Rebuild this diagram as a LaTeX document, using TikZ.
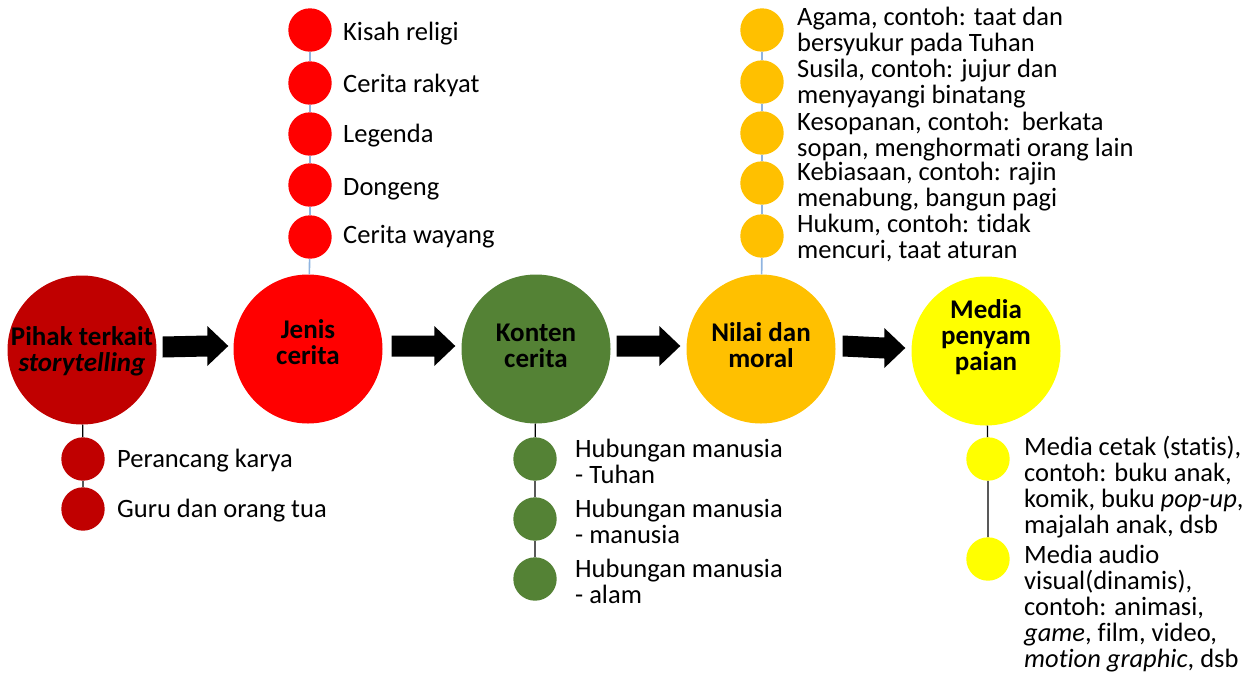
\documentclass[tikz,border=0pt]{standalone}
\usepackage{fontspec}
\setmainfont{Carlito}[Ligatures={NoCommon}]
\usetikzlibrary{calc}
\definecolor{cPihak}{HTML}{C00000}
\definecolor{cJenis}{HTML}{FF0000}
\definecolor{cKonten}{HTML}{548235}
\definecolor{cNilai}{HTML}{FFC000}
\definecolor{cMedia}{HTML}{FFFF00}
\definecolor{linkblue}{HTML}{8FB4E0}
\newcommand{\tightlines}{\lineskiplimit=-30pt\lineskip=0pt}
\begin{document}
\begin{tikzpicture}[x=1pt,y=-1pt,
  bigc/.style={circle, minimum size=149pt, inner sep=0pt, fill=#1},
  dotc/.style={circle, minimum size=43.4pt, inner sep=0pt, fill=#1},
  headtxt/.style={anchor=base, inner sep=0pt, align=center,
    font=\bfseries\fontsize{27}{26}\selectfont\tightlines},
  itemtxt/.style={anchor=base west, inner sep=0pt, align=left,
    font=\fontsize{26.5}{26}\selectfont\tightlines},
  blockarrow/.style={fill=black},
  bluelink/.style={draw=linkblue, line width=1.6pt},
  blacklink/.style={draw=black, line width=1.3pt}]
\useasboundingbox (0,0) rectangle (1256,675);

% main stages
\node[bigc=cPihak]  (P) at (82,350)  {};
\node[bigc=cJenis]  (J) at (308,349) {};
\node[bigc=cKonten] (K) at (536,349) {};
\node[bigc=cNilai]  (N) at (761,349) {};
\node[bigc=cMedia]  (M) at (986,351) {};

% stage titles (anchored on the baseline of their last line)
\node[headtxt] (Pt) at (82,371)  {Pihak terkait\\\textit{storytelling}};
\node[headtxt] (Jt) at (308,364) {Jenis\\cerita};
\node[headtxt] (Kt) at (536,367) {Konten\\cerita};
\node[headtxt] (Nt) at (761,367) {Nilai dan\\moral};
\node[headtxt] (Mt) at (986,370) {Media\\penyam\\paian};

% block arrows between stages: shaft 21 high, head 40 high and 21 long
\foreach \a/\b/\ga/\gb in {P/J/6/5, J/K/9/6, K/N/6/6, N/M/7/6}{
  \path ($(\a.east)+(\ga,-3)$) coordinate (as)
        ($(\b.west)+(-\gb,-3)$) coordinate (ae);
  \fill[blockarrow] ($(as)+(0,-10.5)$) -- ($(ae)+(-21,-10.5)$)
    -- ($(ae)+(-21,-20)$) -- (ae) -- ($(ae)+(-21,20)$)
    -- ($(ae)+(-21,10.5)$) -- ($(as)+(0,10.5)$) -- cycle;
}

% Pihak terkait
\node[dotc=cPihak] (p1) at (83,459) {};
\node[dotc=cPihak] (p2) at (83,509) {};
\node[itemtxt] (p1t) at (117,467) {Perancang karya};
\node[itemtxt] (p2t) at (117,517) {Guru dan orang tua};
\draw[blacklink] (P) -- (p1) (p1) -- (p2);

% Jenis cerita
\node[dotc=cJenis] (j1) at (310,30)  {};
\node[dotc=cJenis] (j2) at (310,83)  {};
\node[dotc=cJenis] (j3) at (310,134) {};
\node[dotc=cJenis] (j4) at (310,185) {};
\node[dotc=cJenis] (j5) at (310,237) {};
\node[itemtxt] (j1t) at (343,40)  {Kisah religi};
\node[itemtxt] (j2t) at (343,92)  {Cerita rakyat};
\node[itemtxt] (j3t) at (343,142) {Legenda};
\node[itemtxt] (j4t) at (343,195) {Dongeng};
\node[itemtxt] (j5t) at (343,243) {Cerita wayang};
\draw[bluelink] (j1) -- (j2) (j2) -- (j3) (j3) -- (j4) (j4) -- (j5) (j5) -- (J);

% Konten cerita
\node[dotc=cKonten] (k1) at (535,459) {};
\node[dotc=cKonten] (k2) at (535,519) {};
\node[dotc=cKonten] (k3) at (535,579) {};
\node[itemtxt] (k1t) at (575,483) {Hubungan manusia\\- Tuhan};
\node[itemtxt] (k2t) at (575,543) {Hubungan manusia\\- manusia};
\node[itemtxt] (k3t) at (575,603) {Hubungan manusia\\- alam};
\draw[blacklink] (K) -- (k1) (k1) -- (k2) (k2) -- (k3);

% Nilai dan moral
\node[dotc=cNilai] (n1) at (762,30)  {};
\node[dotc=cNilai] (n2) at (762,82)  {};
\node[dotc=cNilai] (n3) at (762,133) {};
\node[dotc=cNilai] (n4) at (762,183) {};
\node[dotc=cNilai] (n5) at (762,236) {};
\node[itemtxt] (n1t) at (797,51)  {Agama, contoh: taat dan\\bersyukur pada Tuhan};
\node[itemtxt] (n2t) at (797,103) {Susila, contoh: jujur dan\\menyayangi binatang};
\node[itemtxt] (n3t) at (797,156) {Kesopanan, contoh:\ \ berkata\\sopan, menghormati orang lain};
\node[itemtxt] (n4t) at (797,206) {Kebiasaan, contoh: rajin\\menabung, bangun pagi};
\node[itemtxt] (n5t) at (797,258) {Hukum, contoh: tidak\\mencuri, taat aturan};
\draw[bluelink] (n1) -- (n2) (n2) -- (n3) (n3) -- (n4) (n4) -- (n5) (n5) -- (N);

% Media penyampaian
\node[dotc=cMedia] (m1) at (988,459) {};
\node[dotc=cMedia] (m2) at (988,559) {};
\node[itemtxt] (m1t) at (1024,533) {Media cetak (statis),\\contoh: buku anak,\\komik, buku \textit{pop-up},\\majalah anak, dsb};
\node[itemtxt] (m2t) at (1024,667) {Media audio\\visual(dinamis),\\contoh: animasi,\\\textit{game}, film, video,\\\textit{motion graphic}, dsb};
\draw[blacklink] (M) -- (m1) (m1) -- (m2);
\end{tikzpicture}
\end{document}
